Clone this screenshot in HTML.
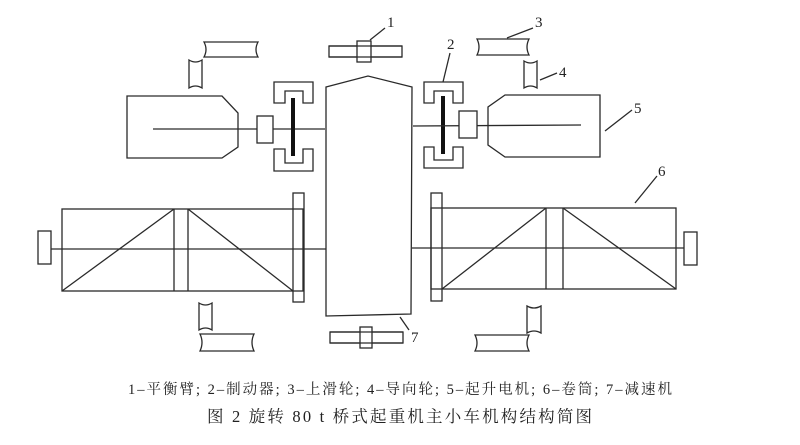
<!DOCTYPE html>
<html><head><meta charset="utf-8"><style>
html,body{margin:0;padding:0;background:#fff;width:800px;height:445px;overflow:hidden}
svg{display:block}
text{font-family:"Liberation Serif","Noto Serif CJK SC",serif;fill:#222}
</style></head><body>
<svg width="800" height="445" viewBox="0 0 800 445" xmlns="http://www.w3.org/2000/svg">
<g fill="none" stroke="#2a2a2a" stroke-width="1.3">
<path d="M204 42 L258 42 Q254 49.5 258 57 L204 57 Q208 49.5 204 42Z"/>
<path d="M189 60 Q195.5 64 202 60 L202 88 Q195.5 84 189 88Z"/>
<path d="M477 39 L529 39 Q525 47 529 55 L477 55 Q481 47 477 39Z"/>
<path d="M524 61 Q530.5 65 537 61 L537 88 Q530.5 84 524 88Z"/>
<rect x="329" y="46" width="73" height="11"/>
<rect x="357" y="41" width="14" height="21" fill="#fff"/>
<line x1="329" y1="46" x2="402" y2="46"/><line x1="329" y1="57" x2="402" y2="57"/>
<path d="M127 96 L222 96 L238 113 L238 147 L222 158 L127 158Z"/>
<line x1="153" y1="129" x2="325" y2="129"/>
<rect x="257" y="116" width="16" height="27" fill="#fff"/>
<path d="M274 103 L274 82 L313 82 L313 103 L303 103 L303 91 L285 91 L285 103Z"/>
<path d="M274 149 L274 171 L313 171 L313 149 L303 149 L303 163 L285 163 L285 149Z"/>
<rect x="291" y="98" width="4" height="58" fill="#111" stroke="none"/>
<path d="M424 103 L424 82 L463 82 L463 103 L453 103 L453 91 L434 91 L434 103Z"/>
<path d="M424 147 L424 168 L463 168 L463 147 L453 147 L453 160 L434 160 L434 147Z"/>
<rect x="441" y="96" width="4" height="58" fill="#111" stroke="none"/>
<line x1="413" y1="126" x2="581" y2="125"/>
<path d="M505 95 L600 95 L600 157 L505 157 L488 145 L488 107Z"/>
<rect x="459" y="111" width="18" height="27" fill="#fff"/>
<path d="M326 316 L326 87 L368 76 L412 87 L411 314Z" fill="#fff"/>
<line x1="51" y1="249" x2="326" y2="249"/>
<rect x="38" y="231" width="13" height="33"/>
<rect x="62" y="209" width="241" height="82"/>
<line x1="174" y1="209" x2="174" y2="291"/><line x1="188" y1="209" x2="188" y2="291"/>
<line x1="62" y1="291" x2="174" y2="209"/><line x1="188" y1="209" x2="293" y2="291"/>
<rect x="293" y="193" width="11" height="109"/>
<line x1="412" y1="248" x2="684" y2="248"/>
<rect x="684" y="232" width="13" height="33"/>
<rect x="431" y="208" width="245" height="81"/>
<line x1="546" y1="208" x2="546" y2="289"/><line x1="563" y1="208" x2="563" y2="289"/>
<line x1="442" y1="289" x2="546" y2="208"/><line x1="563" y1="208" x2="676" y2="289"/>
<rect x="431" y="193" width="11" height="108"/>
<path d="M199 303 Q205.5 307 212 303 L212 330 Q205.5 326 199 330Z"/>
<path d="M200 334 L254 334 Q250 342.5 254 351 L200 351 Q204 342.5 200 334Z"/>
<path d="M527 306 Q534 310 541 306 L541 333 Q534 329 527 333Z"/>
<path d="M475 335 L529 335 Q525 343 529 351 L475 351 Q479 343 475 335Z"/>
<rect x="330" y="332" width="73" height="11"/>
<rect x="360" y="327" width="12" height="21" fill="#fff"/>
<line x1="330" y1="332" x2="403" y2="332"/><line x1="330" y1="343" x2="403" y2="343"/>
<line x1="370" y1="40" x2="385" y2="28"/>
<line x1="443" y1="82" x2="450" y2="53"/>
<line x1="507" y1="38" x2="533" y2="28"/>
<line x1="540" y1="80" x2="557" y2="73"/>
<line x1="605" y1="131" x2="632" y2="110"/>
<line x1="635" y1="203" x2="657" y2="176"/>
<line x1="400" y1="317" x2="409" y2="330"/>
</g>
<g font-size="15">
<text x="387" y="27">1</text>
<text x="447" y="49">2</text>
<text x="535" y="27">3</text>
<text x="559" y="77">4</text>
<text x="634" y="113">5</text>
<text x="658" y="176">6</text>
<text x="411" y="342">7</text>
</g>
<text x="128" y="394" font-size="14.5" textLength="544" lengthAdjust="spacing">1–平衡臂; 2–制动器; 3–上滑轮; 4–导向轮; 5–起升电机; 6–卷筒; 7–减速机</text>
<text x="207" y="422" font-size="16.5" textLength="385" lengthAdjust="spacing">图 2  旋转 80 t 桥式起重机主小车机构结构简图</text>
</svg>
</body></html>
